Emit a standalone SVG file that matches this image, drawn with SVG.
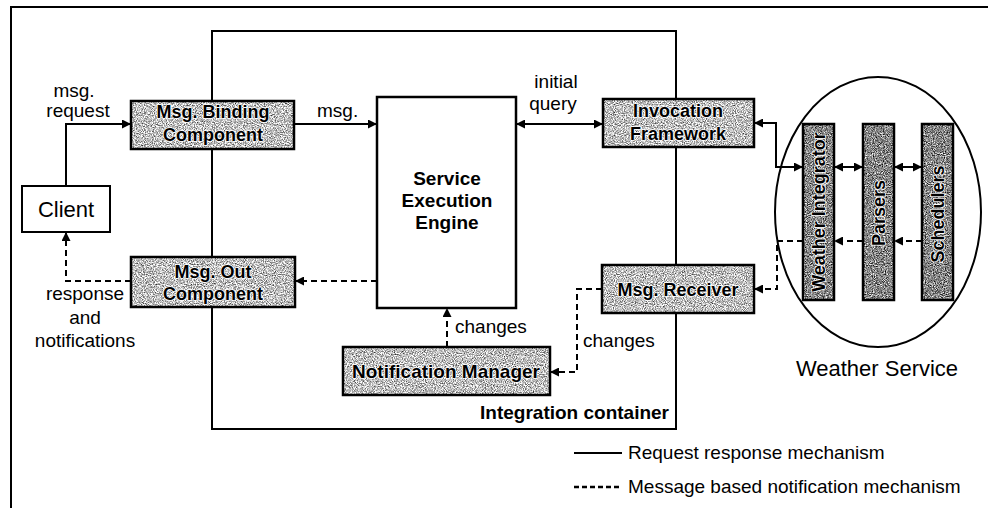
<svg xmlns="http://www.w3.org/2000/svg" width="988" height="508" viewBox="0 0 988 508">
  <style>
    text { font-family: "Liberation Sans", Arial, sans-serif; fill: #000; }
    .lbl { font-size: 19px; }
    .big { font-size: 22px; }
    .bx { font-size: 18px; font-weight: bold; stroke: #fff; stroke-width: 1.6px; paint-order: stroke; stroke-linejoin: round; }
    .bxl { font-size: 19px; font-weight: bold; }
    .frame { fill: none; stroke: #000; stroke-width: 2; }
    .edge { fill: none; stroke: #000; stroke-width: 2; }
    .solid { marker-end: url(#arrow); }
    .both { marker-start: url(#arrow); marker-end: url(#arrow); }
    .dash { stroke-dasharray: 6 4; marker-end: url(#arrow); }
    .light { fill: #a8a8a8; filter: url(#grainLight); }
    .dark { fill: #7a7a7a; filter: url(#grainDark); }
    .edgebox { fill: none; stroke: #000; stroke-width: 2.5; }
  </style>
  <defs>
    <marker id="arrow" viewBox="0 0 10 10" refX="10" refY="5" markerWidth="9" markerHeight="9" markerUnits="userSpaceOnUse" orient="auto-start-reverse">
      <path d="M0,0 L10,5 L0,10 z" fill="#000"/>
    </marker>
    <!-- speckled halftone fill for the shaded component boxes -->
    <filter id="grainLight" x="0" y="0" width="100%" height="100%" color-interpolation-filters="sRGB">
      <feTurbulence type="fractalNoise" baseFrequency="0.9" numOctaves="2" seed="7" result="noise"/>
      <feColorMatrix in="noise" type="matrix" values="1 0 0 0 0  1 0 0 0 0  1 0 0 0 0  0 0 0 0 1" result="gray"/>
      <feComponentTransfer in="gray" result="tone">
        <feFuncR type="linear" slope="1.6" intercept="-0.05"/>
        <feFuncG type="linear" slope="1.6" intercept="-0.05"/>
        <feFuncB type="linear" slope="1.6" intercept="-0.05"/>
      </feComponentTransfer>
      <feComposite in="tone" in2="SourceGraphic" operator="in"/>
    </filter>
    <filter id="grainDark" x="0" y="0" width="100%" height="100%" color-interpolation-filters="sRGB">
      <feTurbulence type="fractalNoise" baseFrequency="0.9" numOctaves="2" seed="11" result="noise"/>
      <feColorMatrix in="noise" type="matrix" values="1 0 0 0 0  1 0 0 0 0  1 0 0 0 0  0 0 0 0 1" result="gray"/>
      <feComponentTransfer in="gray" result="tone">
        <feFuncR type="linear" slope="1.6" intercept="-0.28"/>
        <feFuncG type="linear" slope="1.6" intercept="-0.28"/>
        <feFuncB type="linear" slope="1.6" intercept="-0.28"/>
      </feComponentTransfer>
      <feComposite in="tone" in2="SourceGraphic" operator="in"/>
    </filter>
  </defs>

  <rect width="988" height="508" fill="#fff"/>

  <!-- outer page frame (top and left only) -->
  <path class="frame" d="M11,508 V7 H988"/>

  <!-- integration container -->
  <g id="integration-container">
    <rect class="frame" x="212" y="31" width="464" height="398"/>
    <text class="bxl" x="669" y="419" text-anchor="end">Integration container</text>
  </g>

  <!-- weather service boundary -->
  <g id="weather-service">
    <ellipse cx="878" cy="212" rx="103" ry="135" fill="none" stroke="#000" stroke-width="2"/>
    <text class="big" x="877" y="376" text-anchor="middle">Weather Service</text>
  </g>

  <!-- connectors -->
  <g id="connectors">
    <path class="edge solid" d="M66,186 V124 H131"/>
    <path class="edge solid" d="M294,124 H377"/>
    <path class="edge both" d="M516,124 H603"/>
    <path class="edge both" d="M754,123 H776 V167 H803"/>
    <path class="edge both" d="M834,167 H863"/>
    <path class="edge both" d="M894,167 H922"/>
    <path class="edge dash" d="M922,241 H894"/>
    <path class="edge dash" d="M863,241 H834"/>
    <path class="edge dash" d="M803,241 H777 V289 H754"/>
    <path class="edge dash" d="M602,289 H577 V372 H550"/>
    <path class="edge dash" d="M447,347 V308"/>
    <path class="edge dash" d="M377,281 H295"/>
    <path class="edge dash" d="M131,281 H66 V232"/>
    <text class="lbl" x="74" y="97" text-anchor="middle">msg.</text>
    <text class="lbl" x="78" y="117" text-anchor="middle">request</text>
    <text class="lbl" x="317" y="117">msg.</text>
    <text class="lbl" x="556" y="88" text-anchor="middle">initial</text>
    <text class="lbl" x="553" y="110" text-anchor="middle">query</text>
    <text class="lbl" x="85" y="300" text-anchor="middle">response</text>
    <text class="lbl" x="85" y="324" text-anchor="middle">and</text>
    <text class="lbl" x="85" y="347" text-anchor="middle">notifications</text>
    <text class="lbl" x="455" y="333">changes</text>
    <text class="lbl" x="583" y="347">changes</text>
  </g>

  <g id="client">
    <rect x="22" y="186" width="88" height="46" fill="#fff" stroke="#000" stroke-width="2"/>
    <text class="big" x="66" y="217" text-anchor="middle">Client</text>
  </g>

  <g id="msg-binding-component">
    <rect class="light" x="131" y="101" width="163" height="48"/>
    <rect class="edgebox" x="131" y="101" width="163" height="48"/>
    <text class="bx" x="213" y="118" text-anchor="middle">Msg. Binding</text>
    <text class="bx" x="213" y="141" text-anchor="middle">Component</text>
  </g>

  <g id="msg-out-component">
    <rect class="light" x="131" y="257" width="164" height="50"/>
    <rect class="edgebox" x="131" y="257" width="164" height="50"/>
    <text class="bx" x="213" y="278" text-anchor="middle">Msg. Out</text>
    <text class="bx" x="213" y="300" text-anchor="middle">Component</text>
  </g>

  <g id="service-execution-engine">
    <rect x="377" y="97" width="139" height="211" fill="#fff" stroke="#000" stroke-width="2.5"/>
    <text class="bxl" x="447" y="185" text-anchor="middle">Service</text>
    <text class="bxl" x="447" y="207" text-anchor="middle">Execution</text>
    <text class="bxl" x="447" y="229" text-anchor="middle">Engine</text>
  </g>

  <g id="invocation-framework">
    <rect class="light" x="603" y="99" width="151" height="48"/>
    <rect class="edgebox" x="603" y="99" width="151" height="48"/>
    <text class="bx" x="678" y="117" text-anchor="middle">Invocation</text>
    <text class="bx" x="678" y="140" text-anchor="middle">Framework</text>
  </g>

  <g id="msg-receiver">
    <rect class="light" x="602" y="265" width="152" height="48"/>
    <rect class="edgebox" x="602" y="265" width="152" height="48"/>
    <text class="bx" x="678" y="296" text-anchor="middle">Msg. Receiver</text>
  </g>

  <g id="notification-manager">
    <rect class="light" x="343" y="347" width="207" height="48"/>
    <rect class="edgebox" x="343" y="347" width="207" height="48"/>
    <text class="bx" x="446" y="378" text-anchor="middle" style="font-size:19px">Notification Manager</text>
  </g>

  <g id="weather-integrator">
    <rect class="dark" x="803" y="124" width="31" height="176"/>
    <rect class="edgebox" x="803" y="124" width="31" height="176"/>
    <text class="bx" transform="translate(825,212) rotate(-90)" text-anchor="middle">Weather Integrator</text>
  </g>

  <g id="parsers">
    <rect class="dark" x="863" y="124" width="31" height="176"/>
    <rect class="edgebox" x="863" y="124" width="31" height="176"/>
    <text class="bx" transform="translate(885,213) rotate(-90)" text-anchor="middle">Parsers</text>
  </g>

  <g id="schedulers">
    <rect class="dark" x="922" y="124" width="31" height="176"/>
    <rect class="edgebox" x="922" y="124" width="31" height="176"/>
    <text class="bx" transform="translate(944,214) rotate(-90)" text-anchor="middle">Schedulers</text>
  </g>

  <!-- legend -->
  <g id="legend">
    <line x1="574" y1="453" x2="622" y2="453" stroke="#000" stroke-width="2"/>
    <text class="lbl" x="628" y="459">Request response mechanism</text>
    <line x1="574" y1="487" x2="622" y2="487" stroke="#000" stroke-width="2.5" stroke-dasharray="5 3"/>
    <text class="lbl" x="628" y="493">Message based notification mechanism</text>
  </g>
</svg>
